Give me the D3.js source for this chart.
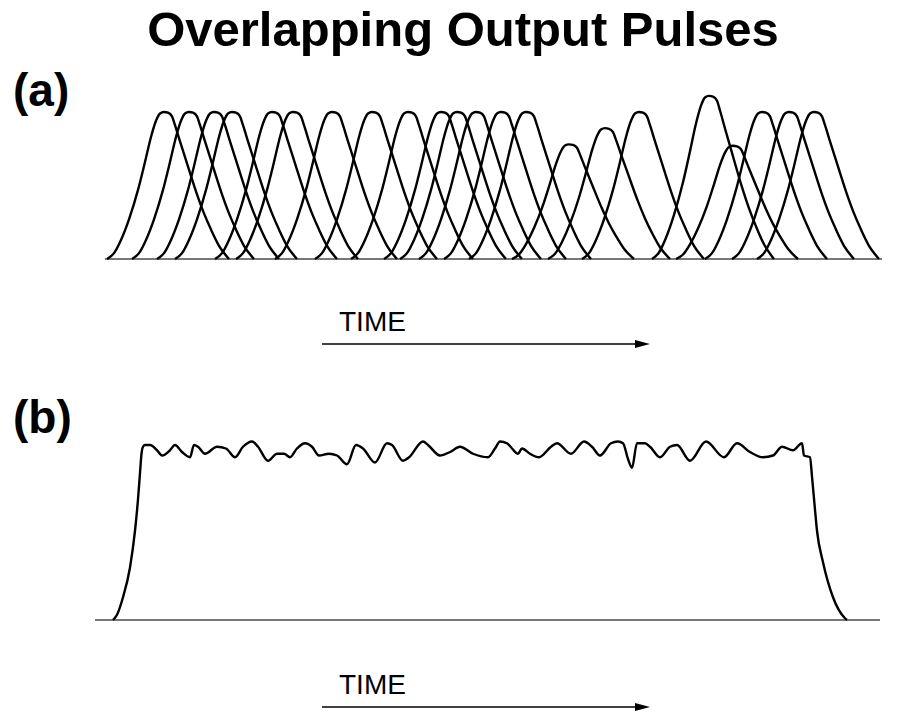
<!DOCTYPE html>
<html>
<head>
<meta charset="utf-8">
<script src="https://cdn.jsdelivr.net/npm/d3@7"></script>
<style>
  body { margin: 0; background: #fff; }
  svg { display: block; font-family: 'Liberation Sans', Arial, Helvetica, sans-serif; }
</style>
</head>
<body>
<svg id="chart" width="901" height="713"></svg>
<script>
// (a) individual pulses: peak time and relative amplitude
var peakTimes = [64, 89, 114, 132, 172, 193, 232, 272, 308, 341, 357, 376, 401, 426, 469, 505, 539, 609, 633, 662, 689, 714]
var peakAmps = [1, 1, 1, 1, 1, 1, 1, 1, 1, 1, 1, 1, 1, 1, 0.78, 0.89, 1, 1.11, 0.77, 1, 1, 1]

// shape of one pulse: time offset from the peak and fraction of the peak
var shapeOffsets = [-57, -50, -43, -35, -26, -19, -13, -8, -4, 0, 4, 8, 11, 16, 23, 33, 40, 47, 55, 65]
var shapeLevels = [0, 0.04, 0.13, 0.27, 0.47, 0.66, 0.83, 0.94, 0.99, 1, 0.995, 0.97, 0.91, 0.8, 0.65, 0.44, 0.31, 0.2, 0.09, 0]

// (b) summed output
var sumTimes = [13, 17, 23, 30, 35, 38, 40, 41.5, 43, 45, 50, 57, 62, 70, 75, 82, 90, 94, 98, 105, 117, 126, 135,
  143, 152, 158, 168, 177, 184, 190, 197, 205, 212, 219, 229, 237, 247, 256, 263, 275, 287, 292, 303,
  309, 323, 328, 340, 350, 360, 373, 388, 395, 400, 407, 412, 418, 422, 430, 439, 451, 457, 471, 484,
  492, 500, 511, 518, 523, 528, 532, 537, 545, 550, 560, 570, 577, 590, 606, 624, 637, 650, 663, 673,
  682, 693, 702, 704, 710, 712, 715, 717, 723, 733, 745, 747]
var sumLevels = [0, 0.03, 0.13, 0.3, 0.51, 0.69, 0.84, 0.95, 0.99, 1, 1, 0.97, 0.94, 0.97, 1, 0.96, 0.93, 1, 0.99, 0.95, 0.99, 0.98, 0.93,
  0.99, 1.02, 0.99, 0.91, 0.95, 0.95, 0.93, 0.98, 1.01, 0.99, 0.94, 0.95, 0.94, 0.89, 1, 0.98, 0.9, 1.01, 1, 0.91,
  0.93, 1.02, 1, 0.94, 0.96, 0.99, 0.95, 0.93, 0.98, 1.02, 1.01, 0.98, 0.95, 0.98, 0.95, 0.93, 0.99, 1.01, 0.95, 1.02,
  0.99, 0.94, 1.01, 1.02, 1.01, 0.92, 0.87, 1.01, 1.01, 0.99, 0.93, 0.99, 1, 0.91, 1.02, 0.93, 1.01, 0.96, 0.93, 0.94,
  0.99, 0.97, 1.01, 0.94, 0.93, 0.82, 0.63, 0.51, 0.33, 0.13, 0.01, 0]

var axisA = [5, 782]
var axisB = [-5, 780]
var timeArrow = [222, 550]

var svg = d3.select('#chart')

var x = d3.scaleLinear().domain([0, 800]).range([100, 900])
var yA = d3.scaleLinear().domain([0, 1]).range([259, 112])
var yB = d3.scaleLinear().domain([0, 1]).range([620, 445])

svg.append('text')
  .attr('x', 463).attr('y', 46)
  .attr('text-anchor', 'middle')
  .attr('font-size', 49).attr('font-weight', 'bold')
  .text('Overlapping Output Pulses')

svg.append('text').attr('x', 13).attr('y', 106)
  .attr('font-size', 46).attr('font-weight', 'bold').text('(a)')
svg.append('text').attr('x', 13).attr('y', 433)
  .attr('font-size', 46).attr('font-weight', 'bold').text('(b)')

// baselines
function baseline(ext, y) {
  svg.append('line')
    .attr('x1', x(ext[0])).attr('x2', x(ext[1]))
    .attr('y1', y(0)).attr('y2', y(0))
    .attr('stroke', '#777').attr('stroke-width', 2)
}
baseline(axisA, yA)
baseline(axisB, yB)

// (a) pulses
var pulseLine = d3.line()
  .x(function(d) { return x(d[0]) })
  .y(function(d) { return yA(d[1]) })
  .curve(d3.curveMonotoneX)

var pulses = peakTimes.map(function(t, i) {
  return shapeOffsets.map(function(dt, j) { return [t + dt, shapeLevels[j] * peakAmps[i]] })
})

svg.append('g').selectAll('path')
  .data(pulses)
  .enter().append('path')
  .attr('d', pulseLine)
  .attr('fill', 'none')
  .attr('stroke', '#000')
  .attr('stroke-width', 2.4)

// (b) summed output
var sumLine = d3.line()
  .x(function(d, i) { return x(sumTimes[i]) })
  .y(function(d) { return yB(d) })
  .curve(d3.curveMonotoneX)

svg.append('path')
  .attr('d', sumLine(sumLevels))
  .attr('fill', 'none')
  .attr('stroke', '#000')
  .attr('stroke-width', 2.4)

// TIME arrows
function arrow(yPos, textY) {
  var x0 = x(timeArrow[0]), x1 = x(timeArrow[1])
  svg.append('text').attr('x', x0 + 17).attr('y', textY)
    .attr('font-size', 28).text('TIME')
  svg.append('line')
    .attr('x1', x0).attr('x2', x1 - 8)
    .attr('y1', yPos).attr('y2', yPos)
    .attr('stroke', '#000').attr('stroke-width', 1.3)
  svg.append('path')
    .attr('d', 'M' + x1 + ',' + yPos + 'L' + (x1 - 15) + ',' + (yPos - 4) + 'L' + (x1 - 15) + ',' + (yPos + 4) + 'Z')
    .attr('fill', '#000')
}
arrow(344, 331)
arrow(707, 694)
</script>
</body>
</html>
